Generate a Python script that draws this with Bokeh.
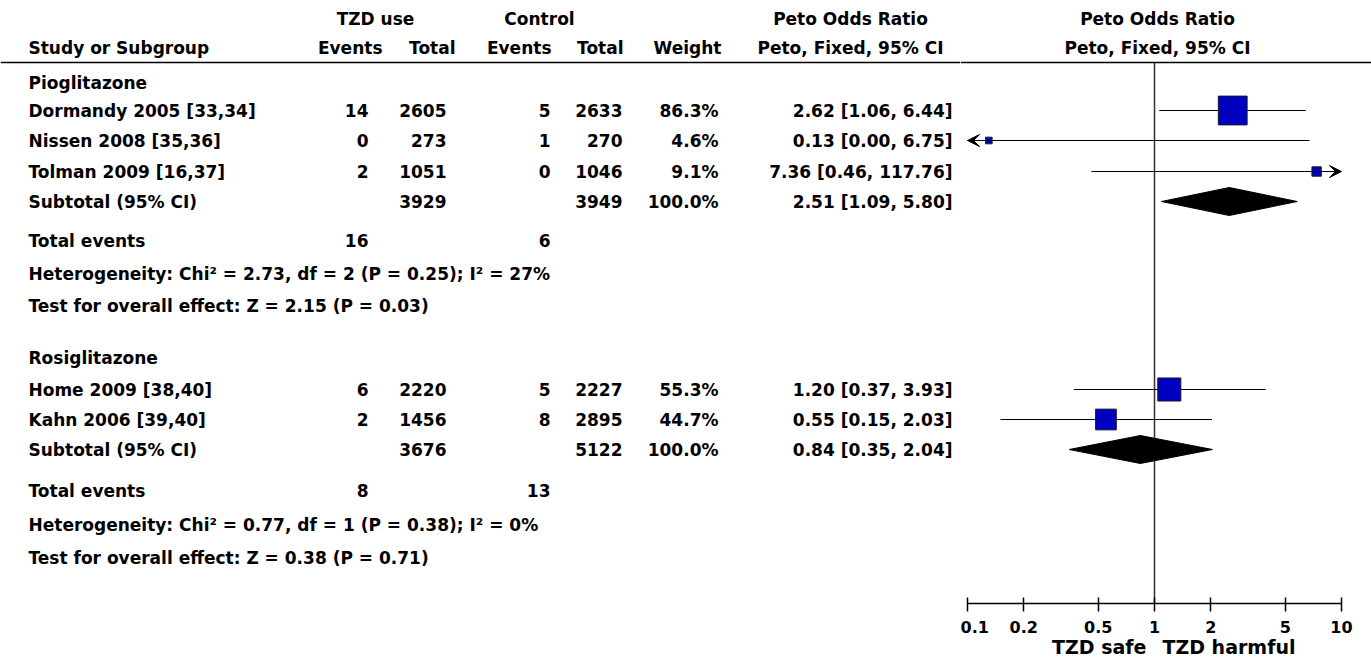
import math

from bokeh.core.properties import value
from bokeh.embed import file_html
from bokeh.layouts import row
from bokeh.models import (Arrow, CustomJSTickFormatter, FixedTicker, LogAxis,
                          Range1d, Span, VeeHead)
from bokeh.plotting import figure
from bokeh.resources import INLINE

# ---------------------------------------------------------------- data
group_names = ["Pioglitazone", "Rosiglitazone"]

studies = [
    ["Dormandy 2005 [33,34]", "Nissen 2008 [35,36]", "Tolman 2009 [16,37]"],
    ["Home 2009 [38,40]", "Kahn 2006 [39,40]"],
]
tzd_events = [[14, 0, 2], [6, 2]]
tzd_total = [[2605, 273, 1051], [2220, 1456]]
ctl_events = [[5, 1, 0], [5, 8]]
ctl_total = [[2633, 270, 1046], [2227, 2895]]
weights = [[86.3, 4.6, 9.1], [55.3, 44.7]]
or_est = [[2.62, 0.13, 7.36], [1.20, 0.55]]
or_lo = [[1.06, 0.00, 0.46], [0.37, 0.15]]
or_hi = [[6.44, 6.75, 117.76], [3.93, 2.03]]

sub_tzd_total = [3929, 3676]
sub_ctl_total = [3949, 5122]
sub_weight = [100.0, 100.0]
sub_est = [2.51, 0.84]
sub_lo = [1.09, 0.35]
sub_hi = [5.80, 2.04]
sub_tzd_events = [16, 8]
sub_ctl_events = [6, 13]
het_chi2 = [2.73, 0.77]
het_df = [2, 1]
het_p = [0.25, 0.38]
het_i2 = [27, 0]
eff_z = [2.15, 0.38]
eff_p = [0.03, 0.71]

tick_values = [0.1, 0.2, 0.5, 1, 2, 5, 10]
axis_lo, axis_hi = 0.1, 10

# ---------------------------------------------------------------- layout
W, H = 1371, 667
W_LEFT = 960
W_RIGHT = W - W_LEFT
DECADE_PX = 187          # pixels per decade on the odds-ratio axis
AXIS_START_PX = 7        # offset of 0.1 inside the forest panel

# row centres (pixels from the top)
title_y = [82, 357]
study_y = [[110, 140, 171], [389, 419]]
subtotal_y = [201, 449]
events_y = [240, 490]
het_y = [273, 524]
test_y = [305, 557]
HEAD1_Y, HEAD2_Y, RULE_Y, AXIS_Y, SIDE_Y = 18, 47, 62, 603, 646

# column anchors in the table
TEXT_X = 28
COL_TZD_EV, COL_TZD_TOT = 368, 446
COL_CTL_EV, COL_CTL_TOT = 550, 622
COL_WEIGHT, COL_CI = 718, 952

FONT = value("DejaVu Sans")
FS = "17px"
INK = "#000000"


def txt(p, x, y, t, align="left", size=FS, **kw):
    p.text(x=x, y=y, text=t, text_font=FONT, text_font_style="bold",
           text_font_size=size, text_align=align, text_baseline="middle",
           text_color=INK, **kw)


def bare(fig):
    fig.grid.grid_line_color = None
    fig.outline_line_color = None
    fig.background_fill_color = "white"
    fig.border_fill_color = "white"
    fig.add_layout(Span(location=RULE_Y, dimension="width",
                        line_color=INK, line_width=1.5))


# ---------------------------------------------------------------- table
left = figure(width=W_LEFT, height=H, x_range=Range1d(0, W_LEFT),
              y_range=Range1d(H, 0), x_axis_location=None,
              y_axis_location=None, min_border=0,
              output_backend="svg", toolbar_location=None)
bare(left)

txt(left, [375, 539], [HEAD1_Y] * 2, ["TZD use", "Control"], "center")
txt(left, [850], [HEAD1_Y], ["Peto Odds Ratio"], "center")
txt(left, [TEXT_X], [HEAD2_Y], ["Study or Subgroup"])
txt(left, [382, 455, 551, 623, 721], [HEAD2_Y] * 5,
    ["Events", "Total", "Events", "Total", "Weight"], "right")
txt(left, [850], [HEAD2_Y], ["Peto, Fixed, 95% CI"], "center")


def ci_text(e, lo, hi):
    return f"{e:.2f} [{lo:.2f}, {hi:.2f}]"


for g, name in enumerate(group_names):
    ys = study_y[g]
    txt(left, [TEXT_X], [title_y[g]], [name])
    txt(left, [TEXT_X] * len(ys), ys, studies[g])
    txt(left, [COL_TZD_EV] * len(ys), ys, [str(v) for v in tzd_events[g]], "right")
    txt(left, [COL_TZD_TOT] * len(ys), ys, [str(v) for v in tzd_total[g]], "right")
    txt(left, [COL_CTL_EV] * len(ys), ys, [str(v) for v in ctl_events[g]], "right")
    txt(left, [COL_CTL_TOT] * len(ys), ys, [str(v) for v in ctl_total[g]], "right")
    txt(left, [COL_WEIGHT] * len(ys), ys, [f"{w:.1f}%" for w in weights[g]], "right")
    txt(left, [COL_CI] * len(ys), ys,
        [ci_text(e, lo, hi) for e, lo, hi in zip(or_est[g], or_lo[g], or_hi[g])],
        "right")

    sy = subtotal_y[g]
    txt(left, [TEXT_X], [sy], ["Subtotal (95% CI)"])
    txt(left, [COL_TZD_TOT], [sy], [str(sub_tzd_total[g])], "right")
    txt(left, [COL_CTL_TOT], [sy], [str(sub_ctl_total[g])], "right")
    txt(left, [COL_WEIGHT], [sy], [f"{sub_weight[g]:.1f}%"], "right")
    txt(left, [COL_CI], [sy], [ci_text(sub_est[g], sub_lo[g], sub_hi[g])], "right")

    ey = events_y[g]
    txt(left, [TEXT_X], [ey], ["Total events"])
    txt(left, [COL_TZD_EV], [ey], [str(sub_tzd_events[g])], "right")
    txt(left, [COL_CTL_EV], [ey], [str(sub_ctl_events[g])], "right")

    txt(left, [TEXT_X], [het_y[g]],
        [f"Heterogeneity: Chi\u00b2 = {het_chi2[g]:.2f}, df = {het_df[g]} "
         f"(P = {het_p[g]:.2f}); I\u00b2 = {het_i2[g]}%"])
    txt(left, [TEXT_X], [test_y[g]],
        [f"Test for overall effect: Z = {eff_z[g]:.2f} (P = {eff_p[g]:.2f})"])

# ---------------------------------------------------------------- forest
x_lo = 10 ** (math.log10(axis_lo) - AXIS_START_PX / DECADE_PX)
x_hi = 10 ** (math.log10(axis_lo) + (W_RIGHT - AXIS_START_PX) / DECADE_PX)

right = figure(width=W_RIGHT, height=H, x_axis_type="log",
               x_range=Range1d(x_lo, x_hi), y_range=Range1d(H, 0),
               x_axis_location=None, y_axis_location=None, min_border=0,
               output_backend="svg", toolbar_location=None)
bare(right)

txt(right, [1], [HEAD1_Y], ["Peto Odds Ratio"], "center", x_offset=3)
txt(right, [1], [HEAD2_Y], ["Peto, Fixed, 95% CI"], "center", x_offset=3)

# line of no effect
right.segment(x0=[1], y0=[RULE_Y], x1=[1], y1=[AXIS_Y],
              line_color="#333333", line_width=1.5)


def arrow_head(x_from, x_to, y):
    right.add_layout(Arrow(end=VeeHead(size=12, fill_color=INK, fill_alpha=1.0,
                                       line_color=INK, line_width=1),
                           x_start=x_from, y_start=y, x_end=x_to, y_end=y,
                           line_color=INK, line_width=1.2))


for g in range(len(group_names)):
    ys = study_y[g]
    x0 = [max(v, axis_lo) for v in or_lo[g]]
    x1 = [min(v, axis_hi) for v in or_hi[g]]
    right.segment(x0=x0, y0=ys, x1=x1, y1=ys, line_color=INK, line_width=1.2)
    for lo, hi, y in zip(or_lo[g], or_hi[g], ys):
        if lo < axis_lo:
            arrow_head(axis_lo * 1.4, axis_lo, y)
        if hi > axis_hi:
            arrow_head(axis_hi / 1.4, axis_hi, y)
    right.scatter(x=or_est[g], y=ys, marker="square",
                  size=[3.1 * math.sqrt(w) for w in weights[g]],
                  fill_color="#0000c0", line_color="#1a1a2e", line_width=1)

    sy = subtotal_y[g]
    right.patches(xs=[[sub_lo[g], sub_est[g], sub_hi[g], sub_est[g]]],
                  ys=[[sy, sy - 14, sy, sy + 14]],
                  fill_color=INK, line_color=INK, line_width=1)

axis = LogAxis(fixed_location=AXIS_Y, bounds=(axis_lo, axis_hi),
               ticker=FixedTicker(ticks=tick_values, minor_ticks=[]),
               formatter=CustomJSTickFormatter(code="return tick.toString()"),
               axis_line_color=INK, axis_line_width=1.5,
               major_tick_line_color=INK, major_tick_line_width=1.5,
               major_tick_in=6, major_tick_out=8,
               minor_tick_line_color=None,
               major_label_standoff=9,
               major_label_text_font="DejaVu Sans",
               major_label_text_font_style="bold",
               major_label_text_font_size="16px",
               major_label_text_color=INK)
right.add_layout(axis, "below")

txt(right, [1], [SIDE_Y], ["TZD safe"], "right", size="19px", x_offset=-8)
txt(right, [1], [SIDE_Y], ["TZD harmful"], "left", size="19px", x_offset=8)

page = row(left, right, spacing=0)
open("out.html", "w").write(file_html(page, INLINE))
